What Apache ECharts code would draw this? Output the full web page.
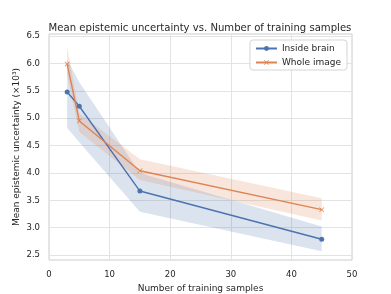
<!DOCTYPE html>
<html>
<head>
<meta charset="utf-8">
<script src="https://cdn.jsdelivr.net/npm/echarts@6/dist/echarts.min.js"></script>
<style>html,body{margin:0;padding:0;background:#fff}#c{width:391px;height:294px}</style>
</head>
<body>
<div id="c"></div>
<script>
const samples = [3, 5, 15, 45];
const brainMean = [5.48, 5.22, 3.67, 2.79];
const brainLow = [4.82, 4.56, 3.29, 2.57];
const brainHigh = [6.07, 5.66, 4.00, 3.02];
const imageMean = [5.99, 4.95, 4.04, 3.33];
const imageLow = [5.78, 4.75, 3.87, 3.13];
const imageHigh = [6.31, 5.09, 4.25, 3.54];
const yTicks = [2.5, 3.0, 3.5, 4.0, 4.5, 5.0, 5.5, 6.0, 6.5];
const xTicks = [0, 10, 20, 30, 40, 50];

const BLUE = '#4c72b0', ORANGE = '#dd8452';
const FONT = 'DejaVu Sans';
const TXT = '#262626';
const crossPath = 'path://M1,0L5,4L9,0L10,1L6,5L10,9L9,10L5,6L1,10L0,9L4,5L0,1Z';

function pairs(ys) { return samples.map((x, i) => [x, ys[i]]); }

function band(name, lo, hi, color) {
  const rows = samples.map((x, i) => [x, lo[i], hi[i]]);
  return {
    name: name + '_band', type: 'custom', data: rows, silent: true, z: 1,
    encode: { x: 0, y: [1, 2] },
    renderItem: function (params, api) {
      if (params.dataIndex !== 0) return null;
      const up = rows.map(r => api.coord([r[0], r[2]]));
      const dn = rows.map(r => api.coord([r[0], r[1]])).reverse();
      return {
        type: 'polygon',
        shape: { points: up.concat(dn) },
        style: { fill: color, opacity: 0.2 }
      };
    }
  };
}

const chart = echarts.init(document.getElementById('c'), null, { renderer: 'canvas' });
chart.setOption({
  animation: false,
  backgroundColor: '#fff',
  textStyle: { fontFamily: FONT, color: TXT },
  title: {
    text: 'Mean epistemic uncertainty vs. Number of training samples',
    left: 195, top: 18, textAlign: 'center',
    textStyle: { fontFamily: FONT, fontSize: 10.1, fontWeight: 'normal', color: TXT }
  },
  grid: { left: 49, right: 39, top: 34, bottom: 34, show: true, borderColor: '#cccccc', borderWidth: 1,
    outerBoundsMode: 'none', containLabel: false },
  legend: {
    data: ['Inside brain', 'Whole image'],
    orient: 'vertical', right: 44, top: 40,
    itemWidth: 21, itemHeight: 6, itemGap: 5,
    padding: [4, 6, 3, 5],
    borderColor: '#d5d5d5', borderWidth: 1, borderRadius: 3,
    backgroundColor: 'rgba(255,255,255,0.85)',
    textStyle: { fontFamily: FONT, fontSize: 9, color: TXT, padding: [0, 0, 0, 0] }
  },
  xAxis: {
    type: 'value', min: 0, max: 50, interval: 10,
    name: 'Number of training samples', nameLocation: 'middle', nameGap: 23,
    nameTextStyle: { fontFamily: FONT, fontSize: 9, color: TXT },
    axisLine: { show: false }, axisTick: { show: false },
    axisLabel: { fontFamily: FONT, fontSize: 8.5, color: TXT, margin: 10 },
    splitLine: { show: true, lineStyle: { color: '#e3e3e3', width: 1 } }
  },
  yAxis: {
    type: 'value', min: 2.41, max: 6.54,
    name: 'Mean epistemic uncertainty (×10³)', nameLocation: 'middle', nameGap: 28, nameRotate: 90,
    nameMoveOverlap: false,
    nameTextStyle: { fontFamily: FONT, fontSize: 9, color: TXT },
    axisLine: { show: false },
    axisTick: { show: false, customValues: yTicks },
    axisLabel: { fontFamily: FONT, fontSize: 8.5, color: TXT, margin: 9, customValues: yTicks,
      formatter: v => v.toFixed(1) },
    splitLine: { show: true, lineStyle: { color: '#e3e3e3', width: 1 } }
  },
  series: [
    band('brain', brainLow, brainHigh, BLUE),
    band('image', imageLow, imageHigh, ORANGE),
    { name: 'Inside brain', type: 'line', data: pairs(brainMean), color: BLUE,
      symbol: 'circle', symbolSize: 5, showSymbol: true,
      lineStyle: { color: BLUE, width: 1.4 }, itemStyle: { color: BLUE }, z: 3 },
    { name: 'Whole image', type: 'line', data: pairs(imageMean), color: ORANGE,
      symbol: crossPath, symbolSize: 5, showSymbol: true,
      lineStyle: { color: ORANGE, width: 1.4 }, itemStyle: { color: ORANGE }, z: 3 }
  ]
});
</script>
</body>
</html>
